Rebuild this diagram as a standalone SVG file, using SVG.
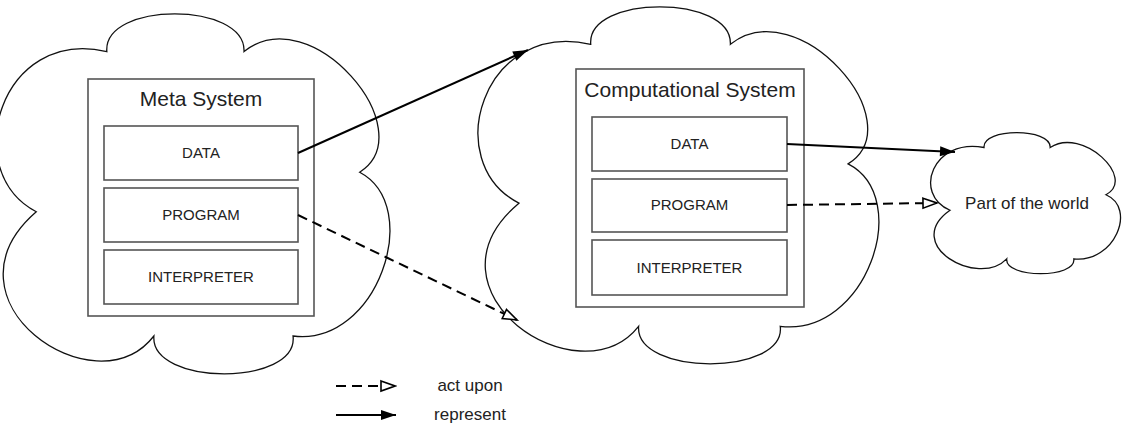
<svg xmlns="http://www.w3.org/2000/svg" width="1125" height="433" viewBox="0 0 1125 433">
<style>
.cloud{fill:#fff;stroke:#111;stroke-width:1.3;vector-effect:non-scaling-stroke}
.box{fill:#fff;stroke:#555;stroke-width:1.6}
.t{font-family:"Liberation Sans",Arial,sans-serif;fill:#222;text-anchor:middle}
.title{font-size:21px}
.lbl{font-size:15px}
.big{font-size:17px}
.rep{fill:none;stroke:#000;stroke-width:2}
.act{fill:none;stroke:#000;stroke-width:2;stroke-dasharray:10 6}
</style>
<defs>
<marker id="solid" markerUnits="userSpaceOnUse" markerWidth="18" markerHeight="12" viewBox="0 0 16 12" refX="15" refY="6" orient="auto">
<path d="M0,1 L15,6 L0,11 Z" fill="#000"/>
</marker>
<marker id="open" markerUnits="userSpaceOnUse" markerWidth="18" markerHeight="14" viewBox="0 0 18 14" refX="16" refY="7" orient="auto">
<path d="M2,2 L16,7 L2,12 Z" fill="#fff" stroke="#000" stroke-width="1.6"/>
</marker>
</defs>

<g id="meta-cloud">
<path class="cloud" transform="translate(1,12) scale(0.392,0.36)" d="M270,110 C260,-30 625,-30 620,110 C790,-40 1080,330 915,445 C1080,540 960,930 745,900 C760,1040 380,1040 390,900 C240,1110 -170,800 90,555 C-110,440 0,40 270,110 Z"/>
</g>
<g id="comp-cloud">
<path class="cloud" transform="translate(483,5) scale(0.399,0.357)" d="M270,110 C260,-30 625,-30 620,110 C790,-40 1080,330 915,445 C1080,540 960,930 745,900 C760,1040 380,1040 390,900 C240,1110 -170,800 90,555 C-110,440 0,40 270,110 Z"/>
</g>

<g id="meta-system">
<rect class="box" x="88" y="79" width="226" height="237"/>
<text class="t title" x="201" y="106">Meta System</text>
</g>
<g id="meta-data">
<rect class="box" x="104" y="126" width="194" height="54"/>
<text class="t lbl" x="201" y="158">DATA</text>
</g>
<g id="meta-program">
<rect class="box" x="104" y="188" width="194" height="54"/>
<text class="t lbl" x="201" y="220">PROGRAM</text>
</g>
<g id="meta-interpreter">
<rect class="box" x="104" y="250" width="194" height="54"/>
<text class="t lbl" x="201" y="282">INTERPRETER</text>
</g>

<g id="comp-system">
<rect class="box" x="576" y="69" width="228" height="238"/>
<text class="t title" x="690" y="97">Computational System</text>
</g>
<g id="comp-data">
<rect class="box" x="592" y="117" width="195" height="54"/>
<text class="t lbl" x="689.5" y="148.5">DATA</text>
</g>
<g id="comp-program">
<rect class="box" x="592" y="179" width="195" height="53"/>
<text class="t lbl" x="689.5" y="210">PROGRAM</text>
</g>
<g id="comp-interpreter">
<rect class="box" x="592" y="240" width="195" height="55"/>
<text class="t lbl" x="689.5" y="272.5">INTERPRETER</text>
</g>

<g id="world">
<path class="cloud" transform="translate(933,132) scale(0.189,0.141)" d="M270,110 C260,-30 625,-30 620,110 C790,-40 1080,330 915,445 C1080,540 960,930 745,900 C760,1040 380,1040 390,900 C240,1110 -170,800 90,555 C-110,440 0,40 270,110 Z"/>
<text class="t big" x="1027" y="209">Part of the world</text>
</g>

<g id="connectors">
<line class="rep" x1="298" y1="153" x2="528" y2="50" marker-end="url(#solid)"/>
<line class="act" x1="298" y1="215" x2="517" y2="320" marker-end="url(#open)"/>
<line class="rep" x1="787" y1="144" x2="955" y2="152" marker-end="url(#solid)"/>
<line class="act" x1="787" y1="205" x2="937" y2="203" marker-end="url(#open)"/>
</g>

<g id="legend">
<line class="act" x1="336" y1="386" x2="395" y2="386" marker-end="url(#open)"/>
<text class="t big" x="470" y="391">act upon</text>
<line class="rep" x1="336" y1="415" x2="396" y2="415" marker-end="url(#solid)"/>
<text class="t big" x="470" y="420">represent</text>
</g>
</svg>
